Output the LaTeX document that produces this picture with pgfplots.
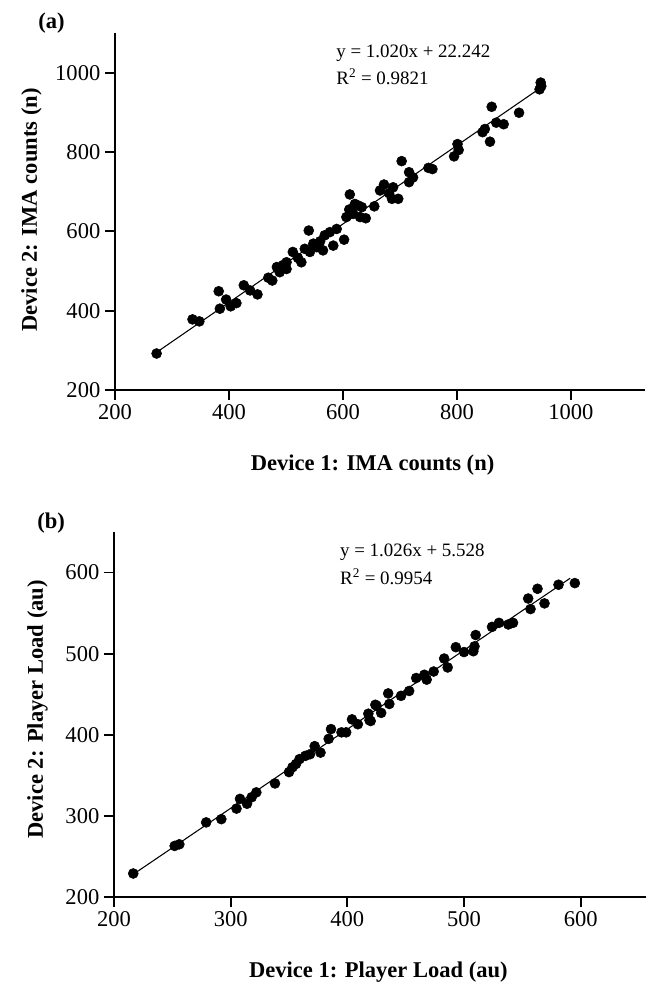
\documentclass[border=0pt]{standalone}
\usepackage{pgfplots}
\pgfplotsset{compat=1.18}
\usepackage{fontspec}
\setmainfont{Liberation Serif}
\begin{document}
\begin{tikzpicture}
\pgfplotsset{
 myax/.style={
  scale only axis,
  axis x line*=bottom, axis y line*=left,
  axis line style={line width=1.3pt,-},
  every tick/.style={line width=1.3pt, black},
  tick align=outside, major tick length=7.5pt,
  /pgf/number format/assume math mode=true,
  /pgf/number format/1000 sep={},
  scaled ticks=false,
  tick label style={font=\fontsize{16.9}{20}\selectfont},
  label style={font=\bfseries\fontsize{16.9}{20}\selectfont, inner sep=0pt},
  clip=false,
 },
 pts/.style={only marks, mark=*, mark size=3.75pt, mark options={fill=black, draw=black}},
 fit/.style={no marks, black, line width=0.8pt},
}
\useasboundingbox (-86.25pt,-445.5pt) rectangle (398.25pt,292.5pt);
% ---------- panel (a)
\begin{axis}[myax, width=397.5pt, height=267.75pt,
  xmin=200, xmax=1130, ymin=200, ymax=1100,
  xtick={200,400,600,800,1000}, ytick={200,400,600,800,1000},
  xlabel={Device 1: IMA counts (n)}, ylabel={Device 2: IMA counts (n)},
  xlabel style={at={(axis description cs:0.486,-0.2241)}, anchor=base},
  ylabel style={at={(axis description cs:-0.1472,0.504)}, anchor=base}]
\addplot[fit] coordinates {(273,295) (945,960)};
\addplot[pts] coordinates {
(273,292) (336,378) (348,373) (382,449) (384,405) (395,428) (403,411) (413,419)
(426,464) (437,451) (450,441) (469,483) (476,476) (484,510) (489,497) (501,522)
(501,505) (512,548) (521,533) (527,522) (533,556) (540,602) (542,548) (548,569)
(554,560) (565,552) (568,590) (577,598) (583,564) (589,606) (602,579) (606,636)
(612,693) (618,644) (621,669) (627,665) (630,636) (633,661) (640,633) (655,663)
(665,703) (672,718) (681,696) (686,682) (688,711) (697,682) (703,777) (716,749)
(716,724) (723,736) (750,760) (757,757) (795,789) (801,820) (803,805) (845,850)
(849,858) (858,826) (861,914) (869,874) (882,870) (909,899) (945,958) (947,975)
(948,966) (495,515) (560,575) (611,655)
};
\node[anchor=base west, inner sep=0pt, font=\fontsize{14.2}{17}\selectfont] at (axis cs:588,1037) {y = 1.020x + 22.242};
\node[anchor=base west, inner sep=0pt, font=\fontsize{14.2}{17}\selectfont] at (axis cs:588,971) {R\textsuperscript{2} = 0.9821};
\node[anchor=base west, inner sep=0pt, font=\bfseries\fontsize{16.9}{20}\selectfont] at (axis cs:65,1112) {(a)};
\end{axis}
% ---------- panel (b)
\begin{axis}[myax, at={(-0.75pt,-380.25pt)}, anchor=south west,
  width=399pt, height=273.75pt,
  xmin=200, xmax=656, ymin=200, ymax=650,
  xtick={200,300,400,500,600}, ytick={200,300,400,500,600},
  xlabel={Device 1: Player Load (au)}, ylabel={Device 2: Player Load (au)},
  xlabel style={at={(axis description cs:0.497,-0.2219)}, anchor=base},
  ylabel style={at={(axis description cs:-0.1335,0.514)}, anchor=base}]
\addplot[fit] coordinates {(216.5,228) (591,593)};
\addplot[pts] coordinates {
(216.5,229) (252,263) (256,265) (279,292) (292,296) (305,309) (308,321) (314,315)
(318,323) (322,329) (338,340) (350,354) (353,360) (356,364) (359,370) (364,374)
(368,376) (372,386) (377,378) (384,395) (386,407) (395,403) (399,403) (404,419)
(409,413) (418,426) (420,417) (425,436) (419,418) (424,437) (429,427) (435,451)
(436,438) (446,448) (453,454) (459,470) (466,474) (468,468) (474,478) (483,494)
(486,483) (493,508) (500,502) (508,503) (509,509) (510,523) (524,533) (530,538)
(538,536) (542,538) (555,568) (557,555) (563,580) (569,562) (581,585) (595,587)
};
\node[anchor=base west, inner sep=0pt, font=\fontsize{14.2}{17}\selectfont] at (axis cs:393.6,619.6) {y = 1.026x + 5.528};
\node[anchor=base west, inner sep=0pt, font=\fontsize{14.2}{17}\selectfont] at (axis cs:393.6,585) {R\textsuperscript{2} = 0.9954};
\node[anchor=base west, inner sep=0pt, font=\bfseries\fontsize{16.9}{20}\selectfont] at (axis cs:134,654) {(b)};
\end{axis}
\end{tikzpicture}
\end{document}
